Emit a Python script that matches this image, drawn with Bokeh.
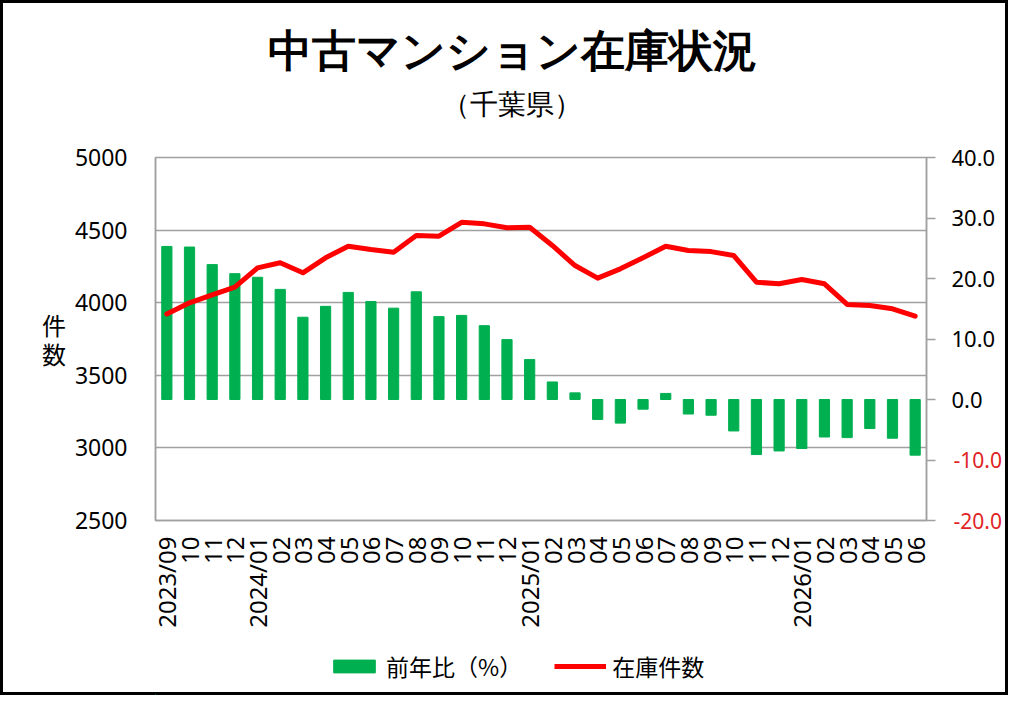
import math
from bokeh.plotting import figure
from bokeh.layouts import column
from bokeh.models import (ColumnDataSource, Range1d, LinearAxis,
                          FixedTicker, Legend, LegendItem)
from bokeh.embed import file_html
from bokeh.resources import INLINE

months = ["2023/09", "2023/10", "2023/11", "2023/12",
          "2024/01", "2024/02", "2024/03", "2024/04", "2024/05", "2024/06",
          "2024/07", "2024/08", "2024/09", "2024/10", "2024/11", "2024/12",
          "2025/01", "2025/02", "2025/03", "2025/04", "2025/05", "2025/06",
          "2025/07", "2025/08", "2025/09", "2025/10", "2025/11", "2025/12",
          "2026/01", "2026/02", "2026/03", "2026/04", "2026/05", "2026/06"]
tick_labels = ["2023/09", "10", "11", "12",
               "2024/01", "02", "03", "04", "05", "06", "07", "08", "09", "10", "11", "12",
               "2025/01", "02", "03", "04", "05", "06", "07", "08", "09", "10", "11", "12",
               "2026/01", "02", "03", "04", "05", "06"]
# 前年比 (%)  -> right axis
yoy_pct = [25.3, 25.2, 22.3, 20.8, 20.2, 18.2, 13.6, 15.4, 17.7, 16.2, 15.1, 17.8,
           13.7, 13.9, 12.2, 9.9, 6.6, 2.9, 1.1, -3.3, -3.9, -1.6, 1.0, -2.4,
           -2.6, -5.2, -9.1, -8.5, -8.1, -6.2, -6.3, -4.8, -6.4, -9.2]
# 在庫件数 -> left axis
stock = [3923, 3999, 4054, 4107, 4240, 4275, 4206, 4309, 4389, 4366, 4348, 4463,
         4458, 4554, 4543, 4516, 4520, 4394, 4256, 4169, 4233, 4309, 4389, 4359,
         4352, 4325, 4141, 4130, 4160, 4130, 3988, 3981, 3958, 3907]
left_ticks = [2500, 3000, 3500, 4000, 4500, 5000]
right_ticks = [-20, -10, 0, 10, 20, 30, 40]

title = "中古マンション在庫状況"
subtitle = "（千葉県）"
bar_name = "前年比（%）"
line_name = "在庫件数"

GREEN = "#00b050"
RED = "#ff0000"
NEG_RED = "#e02424"
GREY = "#a0a0a0"
NUM_FONT = "Noto Sans"
JP_FONT = "Noto Sans CJK JP"
W = 1008
FL, FR = 155, 926   # plot frame edges; the column aligns all frames to these

# ---- title strip ----
top = figure(width=W, height=125, x_range=Range1d(FL, FR), y_range=Range1d(125, 0),
             output_backend="svg", toolbar_location=None, min_border=0,
             x_axis_location=None, y_axis_location=None)
top.outline_line_color = None
top.grid.grid_line_color = None
top.background_fill_alpha = 0
top.border_fill_alpha = 0
top.text(x=[512], y=[51], text=[title], text_align="center", text_baseline="middle",
         text_font="Noto Sans CJK JP", text_font_size="44px", text_font_style="bold",
         text_color="black")
top.text(x=[511], y=[104], text=[subtitle], text_align="center", text_baseline="middle",
         text_font="Noto Sans CJK JP", text_font_size="28px", text_font_style="normal",
         text_color="black")

# ---- main chart ----
idx = list(range(len(months)))
src = ColumnDataSource(dict(i=idx, month=months, pct=yoy_pct, stock=stock))

p = figure(width=W, height=520, x_range=Range1d(-0.5, len(months) - 0.5),
           y_range=Range1d(2500, 5000), output_backend="svg", toolbar_location=None,
           min_border_left=FL, min_border_right=W - FR, min_border_top=32,
           min_border_bottom=125)
p.extra_y_ranges = {"pct": Range1d(-20, 40)}
p.outline_line_color = GREY
p.outline_line_width = 1.5
p.border_fill_alpha = 0

p.vbar(x="i", top="pct", bottom=0, width=0.45, color=GREEN,
       y_range_name="pct", source=src)
p.line(x="i", y="stock", color=RED, line_width=5, line_join="round",
       line_cap="round", source=src)

ya = p.yaxis[0]
ya.ticker = FixedTicker(ticks=left_ticks)
ya.axis_line_color = GREY
ya.axis_line_width = 1.5
ya.major_tick_line_color = None
ya.minor_tick_line_color = None
ya.major_label_standoff = 22
ya.major_label_text_font = NUM_FONT
ya.major_label_text_font_size = "23px"
ya.major_label_text_color = "black"
ya.axis_label = "件\n数"
ya.axis_label_text_font = JP_FONT
ya.axis_label_text_font_size = "24px"
ya.axis_label_text_font_style = "normal"
ya.axis_label_text_color = "black"
ya.axis_label_text_line_height = 0.85
ya.axis_label_standoff = 6
if hasattr(ya, "axis_label_orientation"):
    ya.axis_label_orientation = "horizontal"

p.ygrid.ticker = FixedTicker(ticks=left_ticks)
p.ygrid.grid_line_color = GREY
p.ygrid.grid_line_width = 1.5
p.xgrid.grid_line_color = None

# right axis: ticks + non-negative labels
ra = LinearAxis(y_range_name="pct", ticker=FixedTicker(ticks=right_ticks))
ra.axis_line_color = GREY
ra.axis_line_width = 1.5
ra.major_tick_line_color = GREY
ra.major_tick_line_width = 1.5
ra.major_tick_in = 0
ra.major_tick_out = 9
ra.minor_tick_line_color = None
ra.major_label_standoff = 16
ra.major_label_text_font = NUM_FONT
ra.major_label_text_font_size = "22px"
ra.major_label_text_color = "black"
ra.major_label_overrides = {t: ("%.1f" % t if t >= 0 else "") for t in right_ticks}
p.add_layout(ra, "right")

# second right axis carrying only the red negative labels, pulled back over the first
neg_ticks = [t for t in right_ticks if t < 0]
ra2 = LinearAxis(y_range_name="pct", ticker=FixedTicker(ticks=neg_ticks))
ra2.axis_line_color = None
ra2.major_tick_line_color = None
ra2.minor_tick_line_color = None
ra2.major_tick_out = 0
ra2.major_tick_in = 0
ra2.major_label_standoff = -45
ra2.major_label_text_font = NUM_FONT
ra2.major_label_text_font_size = "21px"
ra2.major_label_text_color = NEG_RED
ra2.major_label_overrides = {t: "%.1f" % t for t in neg_ticks}
p.add_layout(ra2, "right")

xa = p.xaxis[0]
xa.ticker = FixedTicker(ticks=idx)
xa.axis_line_color = GREY
xa.axis_line_width = 1.5
xa.major_tick_line_color = None
xa.minor_tick_line_color = None
xa.major_label_orientation = math.pi / 2
xa.major_label_standoff = 10
xa.major_label_text_font = NUM_FONT
xa.major_label_text_font_size = "24px"
xa.major_label_text_color = "black"
xa.major_label_overrides = dict(zip(idx, tick_labels))

# ---- legend strip ----
bot = figure(width=W, height=50, x_range=Range1d(FL, FR), y_range=Range1d(0, 50),
             output_backend="svg", toolbar_location=None, min_border=0,
             x_axis_location=None, y_axis_location=None)
bot.outline_line_color = None
bot.grid.grid_line_color = None
bot.background_fill_alpha = 0
bot.border_fill_alpha = 0
# off-screen stand-ins so the legend has glyph styles to draw
lb = bot.vbar(x=[-1000], top=[1], width=0.5, color=GREEN)
ll = bot.line(x=[-1000, -999], y=[1, 1], color=RED, line_width=5)
legend = Legend(items=[LegendItem(label=bar_name, renderers=[lb]),
                       LegendItem(label=line_name, renderers=[ll])],
                orientation="horizontal", location=(328 - FL, 12),
                glyph_width=52, glyph_height=16, label_standoff=6, spacing=32,
                label_text_font=JP_FONT, label_text_font_size="23px",
                label_text_color="black", border_line_color=None,
                background_fill_alpha=0, margin=0, padding=0)
bot.add_layout(legend)

layout = column(top, p, bot, spacing=0)
layout.styles = {"outline": "3px solid black", "outline-offset": "-3px",
                 "background-color": "white"}

open("out.html", "w").write(file_html(layout, INLINE))
